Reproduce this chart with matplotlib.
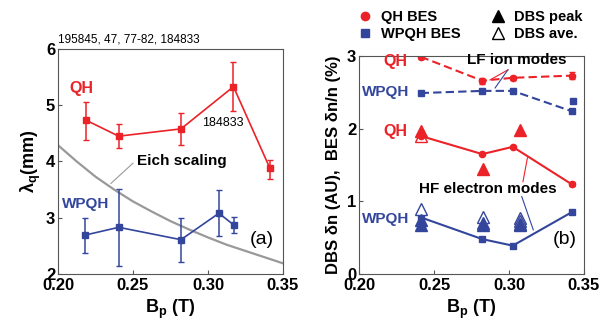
import numpy as np
import matplotlib
matplotlib.use('Agg')
import matplotlib.pyplot as plt
from matplotlib.lines import Line2D

plt.rcParams['font.family'] = ['Liberation Sans', 'DejaVu Sans']
plt.rcParams['mathtext.fontset'] = 'custom'
plt.rcParams['mathtext.rm'] = 'Liberation Sans'
plt.rcParams['mathtext.bf'] = 'Liberation Sans:bold'
plt.rcParams['mathtext.it'] = 'Liberation Sans:italic'

red = '#ec2229'
blue = '#33469c'

# panel (a): lambda_q vs Bp
qh_bp = [0.219, 0.2405, 0.282, 0.317, 0.3413]
qh_lam = [4.73, 4.45, 4.58, 5.33, 3.88]
qh_lo = [4.39, 4.24, 4.29, 4.89, 3.69]
qh_hi = [5.05, 4.66, 4.87, 5.77, 4.03]

wp_bp = [0.2178, 0.2405, 0.282, 0.3073, 0.3173]
wp_lam = [2.69, 2.83, 2.61, 3.08, 2.87]
wp_lo = [2.38, 2.15, 2.22, 2.67, 2.72]
wp_hi = [3.00, 3.51, 3.00, 3.49, 3.02]

eich_bp = [0.20, 0.2125, 0.225, 0.2375, 0.25, 0.2625, 0.275, 0.2875, 0.30, 0.3125, 0.325, 0.3375, 0.35]
eich_lam = [4.29, 4.00, 3.73, 3.50, 3.29, 3.11, 2.94, 2.79, 2.65, 2.52, 2.41, 2.30, 2.19]

# panel (b): fluctuation levels
lf_qh_bp = [0.2411, 0.2822, 0.3025, 0.3418]
lf_qh = [2.99, 2.66, 2.70, 2.73]
lf_qh_err = [0.03, 0.04, 0.03, 0.05]
lf_wp_bp = [0.2411, 0.2822, 0.3025, 0.3418]
lf_wp = [2.49, 2.52, 2.52, 2.24]
lf_wp_extra_bp = [0.3425]
lf_wp_extra = [2.38]

hf_qh_bp = [0.2411, 0.2822, 0.3025, 0.3418]
hf_qh = [1.90, 1.65, 1.75, 1.235]
hf_qh_err = [0.0, 0.0, 0.0, 0.03]
hf_wp_bp = [0.2411, 0.2822, 0.3025, 0.3418]
hf_wp = [0.78, 0.48, 0.39, 0.85]

dbs_qh_peak_bp = [0.2411, 0.2825, 0.3073]
dbs_qh_peak = [1.97, 1.44, 1.98]
dbs_qh_ave_bp = [0.2411]
dbs_qh_ave = [1.90]
dbs_wp_peak_bp = [0.2411, 0.2411, 0.2825, 0.2825, 0.3073, 0.3073]
dbs_wp_peak = [0.74, 0.67, 0.70, 0.67, 0.69, 0.67]
dbs_wp_ave_bp = [0.2411, 0.2825, 0.3073, 0.3073]
dbs_wp_ave = [0.89, 0.78, 0.77, 0.73]

fig = plt.figure(figsize=(6.11, 3.31), dpi=100)
ax1 = fig.add_axes([0.0949, 0.1722, 0.3682, 0.6798])
ax2 = fig.add_axes([0.5876, 0.1722, 0.3682, 0.6586])

# ---- panel (a)
ax1.plot(eich_bp, eich_lam, color='#999999', lw=1.6, zorder=1)
ax1.errorbar(qh_bp, qh_lam,
             yerr=[np.subtract(qh_lam, qh_lo), np.subtract(qh_hi, qh_lam)],
             color=red, marker='s', ms=5, lw=1.2, elinewidth=1.1, capsize=2.5, zorder=3)
ax1.errorbar(wp_bp, wp_lam,
             yerr=[np.subtract(wp_lam, wp_lo), np.subtract(wp_hi, wp_lam)],
             color=blue, marker='s', ms=5, lw=1.2, elinewidth=1.1, capsize=2.5, zorder=3)
ax1.plot([0.25, 0.2353], [3.97, 3.61], color='#999999', lw=0.8)
ax1.text(0.2525, 4.0, 'Eich scaling', fontsize=11, fontweight='bold', ha='left', va='center')
ax1.text(0.2153, 5.29, 'QH', color=red, fontsize=11.5, fontweight='bold', ha='center', va='center')
ax1.text(0.2187, 3.24, 'WPQH', color=blue, fontsize=11, fontweight='bold', ha='center', va='center')
ax1.text(0.31, 4.68, '184833', fontsize=9, ha='center', va='center')
ax1.text(0.336, 2.62, '(a)', fontsize=14, ha='center', va='center')
ax1.text(0.0, 1.015, '195845, 47, 77-82, 184833', transform=ax1.transAxes,
         fontsize=8.5, ha='left', va='bottom')
ax1.set_xlim(0.20, 0.35)
ax1.set_ylim(2, 6)
ax1.set_xticks([0.20, 0.25, 0.30, 0.35])
ax1.set_yticks([2, 3, 4, 5, 6])
ax1.set_xlabel(r'$\mathbf{B_p}$ (T)', fontsize=13, fontweight='bold', labelpad=3)
ax1.set_ylabel(r'$\mathbf{\lambda_q}$(mm)', fontsize=13, fontweight='bold', labelpad=2)

# ---- panel (b)
ax2.errorbar(lf_qh_bp, lf_qh, yerr=lf_qh_err, color=red, marker='o', ms=4.5, lw=1.5,
             ls='--', dashes=(4, 2), elinewidth=1, capsize=2)
ax2.plot(lf_wp_bp, lf_wp, color=blue, marker='s', ms=4.5, lw=1.5, ls='--', dashes=(4, 2))
ax2.plot(lf_wp_extra_bp, lf_wp_extra, color=blue, marker='s', ms=4.5, ls='none')
ax2.errorbar(hf_qh_bp, hf_qh, yerr=hf_qh_err, color=red, marker='o', ms=4.5, lw=1.5,
             elinewidth=1, capsize=2)
ax2.plot(hf_wp_bp, hf_wp, color=blue, marker='s', ms=4.5, lw=1.5)

ax2.plot(dbs_qh_ave_bp, dbs_qh_ave, ls='none', marker='^', ms=9, mfc='white', mec=red, mew=1)
ax2.plot(dbs_qh_peak_bp, dbs_qh_peak, ls='none', marker='^', ms=9, color=red)
ax2.plot(dbs_wp_ave_bp, dbs_wp_ave, ls='none', marker='^', ms=9, mfc='white', mec=blue, mew=1)
ax2.plot(dbs_wp_peak_bp, dbs_wp_peak, ls='none', marker='^', ms=9, color=blue)

# leader lines
ax2.plot([0.2993, 0.2873], [2.81, 2.67], color=red, lw=0.8)
ax2.plot([0.2993, 0.2907], [2.81, 2.56], color=blue, lw=0.8)
ax2.plot([0.3123, 0.3093], [1.60, 1.27], color=red, lw=0.8)
ax2.plot([0.3085, 0.3162], [1.065, 0.607], color=blue, lw=0.8)

ax2.text(0.305, 2.94, 'LF ion modes', fontsize=11, fontweight='bold', ha='center', va='center')
ax2.text(0.286, 1.17, 'HF electron modes', fontsize=11, fontweight='bold', ha='center', va='center')
ax2.text(0.224, 2.93, 'QH', color=red, fontsize=11.5, fontweight='bold', ha='center', va='center')
ax2.text(0.218, 2.50, 'WPQH', color=blue, fontsize=11, fontweight='bold', ha='center', va='center')
ax2.text(0.224, 1.96, 'QH', color=red, fontsize=11.5, fontweight='bold', ha='center', va='center')
ax2.text(0.218, 0.76, 'WPQH', color=blue, fontsize=11, fontweight='bold', ha='center', va='center')
ax2.text(0.337, 0.47, '(b)', fontsize=14, ha='center', va='center')

ax2.set_xlim(0.20, 0.35)
ax2.set_ylim(0, 3)
ax2.set_xticks([0.20, 0.25, 0.30, 0.35])
ax2.set_yticks([0, 1, 2, 3])
ax2.set_xlabel(r'$\mathbf{B_p}$ (T)', fontsize=13, fontweight='bold', labelpad=3)
ax2.set_ylabel('DBS δn (AU),  BES δn/n (%)', fontsize=12, fontweight='bold', labelpad=4)

for ax in (ax1, ax2):
    for s in ax.spines.values():
        s.set_color('#555555')
        s.set_linewidth(0.8)
    ax.tick_params(direction='in', length=3, width=0.8, color='#555555', labelsize=12, pad=2)
    ax.tick_params(axis='x', pad=3)
    for lab in ax.get_xticklabels() + ax.get_yticklabels():
        lab.set_fontweight('bold')

handles = [
    Line2D([], [], ls='none', marker='o', ms=6, color=red),
    Line2D([], [], ls='none', marker='s', ms=6, color=blue),
    Line2D([], [], ls='none', marker='^', ms=9, color='black'),
    Line2D([], [], ls='none', marker='^', ms=9, mfc='white', mec='black'),
]
labels = ['QH BES', 'WPQH BES', 'DBS peak', 'DBS ave.']
leg = fig.legend(handles, labels, ncol=2, loc='upper left', bbox_to_anchor=(0.5635, 1.01),
                 frameon=False, prop={'size': 10.5, 'weight': 'bold'}, handlelength=1.0,
                 handletextpad=0.6, columnspacing=2.05, labelspacing=0.2)

fig.savefig('out.png', dpi=100)
